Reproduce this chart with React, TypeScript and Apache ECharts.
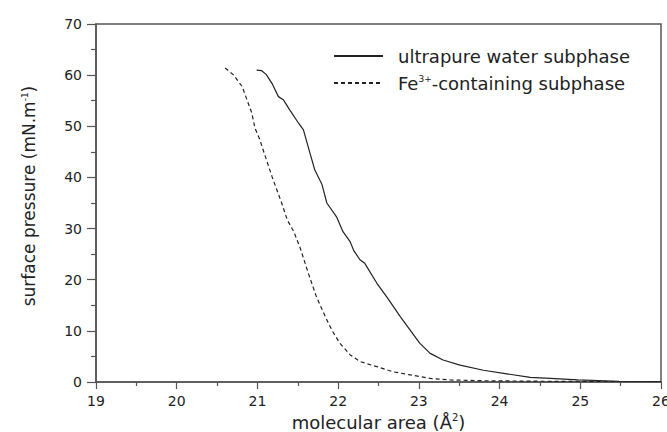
import React, { useEffect, useRef } from "react";
import * as echarts from "echarts";

const waterX = [20.99, 21.05, 21.11, 21.18, 21.26, 21.32, 21.40, 21.51, 21.57, 21.65, 21.71, 21.80, 21.86, 21.98, 22.06, 22.15, 22.19, 22.27, 22.33, 22.48, 22.60, 22.77, 22.89, 23.01, 23.14, 23.30, 23.51, 23.80, 24.09, 24.38, 24.63, 24.97, 25.48, 26.0];
const waterY = [61.0, 60.9, 60.1, 58.4, 55.8, 55.2, 53.2, 50.6, 49.3, 44.8, 41.5, 38.6, 35.0, 32.3, 29.4, 27.4, 25.8, 23.9, 23.2, 19.3, 16.7, 12.8, 10.2, 7.6, 5.6, 4.3, 3.3, 2.3, 1.6, 0.9, 0.7, 0.4, 0.15, 0.1];

const feX = [20.60, 20.70, 20.81, 20.87, 20.93, 20.97, 21.03, 21.07, 21.14, 21.18, 21.24, 21.30, 21.37, 21.45, 21.53, 21.63, 21.73, 21.84, 21.92, 22.02, 22.15, 22.27, 22.48, 22.68, 22.89, 23.14, 23.39, 23.80, 24.5, 25.2, 26.0];
const feY = [61.4, 60.1, 57.8, 55.2, 52.6, 49.6, 47.4, 45.4, 42.1, 40.2, 37.6, 35.0, 31.7, 29.4, 26.2, 21.3, 16.7, 12.8, 10.2, 7.6, 5.3, 4.0, 3.0, 2.0, 1.4, 0.7, 0.4, 0.25, 0.15, 0.1, 0.1];

const seriesNames = ["ultrapure water subphase", "Fe3+-containing subphase"];
const xTicks = { min: 19, max: 26, interval: 1 };
const yTicks = { min: 0, max: 70, interval: 10 };

const FONT = "DejaVu Sans";
const TEXT = "#222";
const AXIS = "#555";

export default function App() {
  const ref = useRef<HTMLDivElement>(null);
  useEffect(() => {
    document.body.style.margin = "0";
    if (!ref.current) return;
    const chart = echarts.init(ref.current, undefined, { renderer: "svg" });
    const axisCommon = {
      axisLine: { show: true, lineStyle: { color: AXIS, width: 1.5 } },
      splitLine: { show: false },
      minorSplitLine: { show: false },
    };
    chart.setOption({
      animation: false,
      backgroundColor: "#fff",
      grid: {
        left: 96, right: 6, top: 24, bottom: 50,
        containLabel: false, outerBoundsMode: "none",
        show: true, borderColor: AXIS, borderWidth: 1.5, backgroundColor: "transparent",
      },
      legend: {
        orient: "vertical",
        left: 333,
        top: 47,
        padding: 0,
        itemWidth: 49,
        itemHeight: 14,
        itemGap: 9,
        itemStyle: { opacity: 0 },
        textStyle: {
          fontFamily: FONT,
          fontSize: 18,
          color: TEXT,
          padding: [0, 0, 0, 10],
          rich: {
            sup: { fontFamily: FONT, fontSize: 9, color: TEXT, verticalAlign: "top", lineHeight: 18 },
            n: { fontFamily: FONT, fontSize: 18, color: TEXT, lineHeight: 18 },
          },
        },
        formatter: (name: string) =>
          name === seriesNames[1] ? "{n|Fe}{sup|3+}{n|-containing subphase}" : "{n|" + name + "}",
        data: seriesNames,
      },
      xAxis: {
        type: "value",
        ...xTicks,
        ...axisCommon,
        axisTick: { show: true, length: 7, lineStyle: { color: AXIS, width: 1.2 } },
        minorTick: { show: true, splitNumber: 2, length: 4, lineStyle: { color: AXIS, width: 1.2 } },
        axisLabel: { fontFamily: FONT, fontSize: 14, color: TEXT, margin: 12 },
        name: "molecular area (Å{sup|2})",
        nameLocation: "middle",
        nameGap: 24,
        nameTextStyle: {
          fontFamily: FONT,
          fontSize: 18,
          color: TEXT,
          rich: { sup: { fontFamily: FONT, fontSize: 10, color: TEXT, verticalAlign: "top", lineHeight: 20 } },
        },
      },
      yAxis: {
        type: "value",
        ...yTicks,
        ...axisCommon,
        axisTick: { show: true, length: 9, lineStyle: { color: AXIS, width: 1.2 } },
        minorTick: { show: true, splitNumber: 2, length: 5, lineStyle: { color: AXIS, width: 1.2 } },
        axisLabel: { fontFamily: FONT, fontSize: 14, color: TEXT, margin: 14 },
        name: "surface pressure (mN.m{sup|-1})",
        nameLocation: "middle",
        nameRotate: 90,
        nameGap: 58,
        nameTextStyle: {
          fontFamily: FONT,
          fontSize: 17,
          color: TEXT,
          padding: [0, 0, 0, 14],
          rich: { sup: { fontFamily: FONT, fontSize: 9, color: TEXT, verticalAlign: "top", lineHeight: 18 } },
        },
      },
      series: [
        {
          name: seriesNames[0],
          type: "line",
          symbol: "none",
          smooth: false,
          lineStyle: { color: "#222", width: 1.2, type: "solid" },
          itemStyle: { color: "#222" },
          data: waterX.map((x, i) => [x, waterY[i]]),
        },
        {
          name: seriesNames[1],
          type: "line",
          symbol: "none",
          smooth: false,
          lineStyle: { color: "#222", width: 1.2, type: [4, 3] },
          itemStyle: { color: "#222" },
          data: feX.map((x, i) => [x, feY[i]]),
        },
      ],
    });
    return () => chart.dispose();
  }, []);
  return <div ref={ref} style={{ width: 667, height: 432 }} />;
}
